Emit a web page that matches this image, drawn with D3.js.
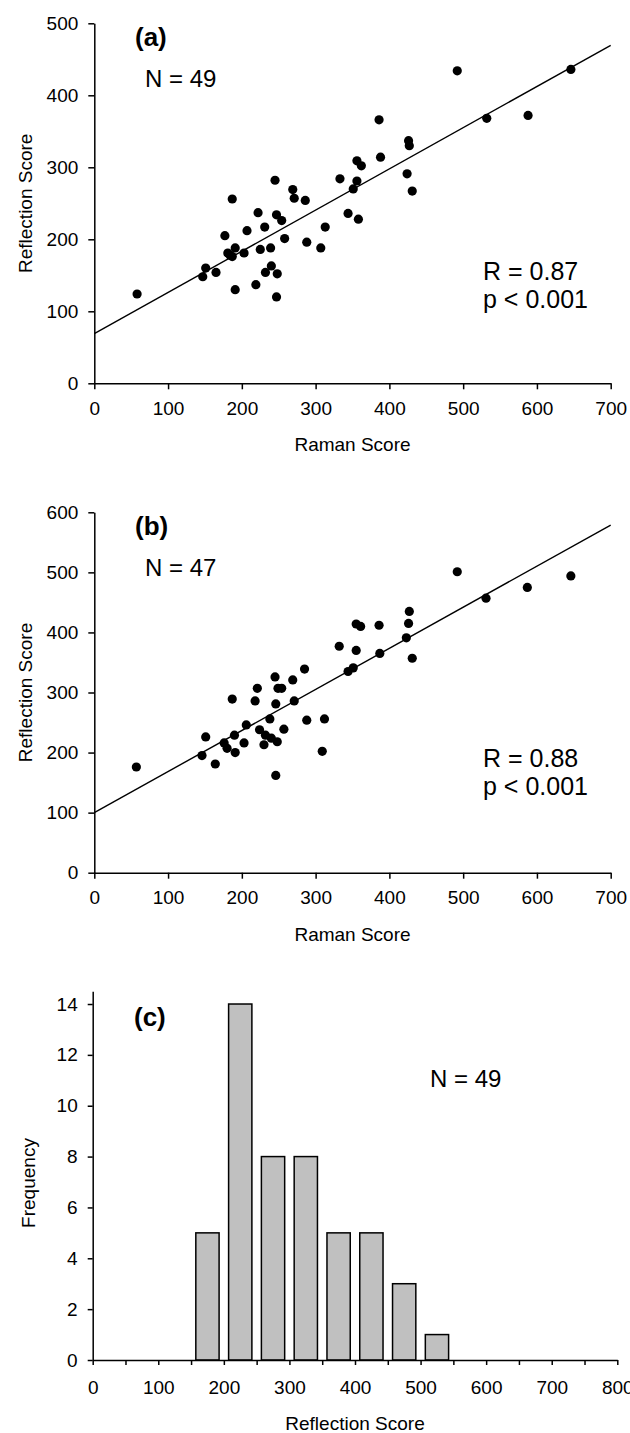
<!DOCTYPE html>
<html>
<head>
<meta charset="utf-8">
<script src="https://cdn.jsdelivr.net/npm/d3@7"></script>
<style>
  body { margin: 0; background: #fff; }
  svg { display: block; font-family: "Liberation Sans", Arial, sans-serif; }
  .axis path, .axis line { stroke: #000; stroke-width: 1.5; }
  .axis text { font-size: 19px; fill: #000; }
</style>
</head>
<body>
<div id="chart"></div>
<script>
// panel (a): Raman score vs reflection score, N = 49
const ramanA = [187, 245, 269, 271, 286, 222, 247, 254, 231, 177, 207, 258, 288, 307, 181, 187,
  191, 203, 225, 239, 240, 232, 248, 219, 247, 191, 151, 147, 165, 58, 492, 646, 532, 588,
  386, 426, 427, 388, 356, 362, 333, 356, 351, 424, 431, 344, 358, 313, 184];
const reflA = [256, 282, 269, 257, 254, 237, 234, 226, 217, 205, 212, 201, 196, 188, 181, 176,
  188, 181, 186, 188, 163, 154, 152, 137, 120, 130, 160, 148, 154, 124, 434, 436, 368, 372,
  366, 337, 330, 314, 309, 302, 284, 281, 270, 291, 267, 236, 228, 217, 178];
const fitA = [69, 0.572]; // intercept, slope

// panel (b): N = 47
const ramanB = [285, 245, 269, 249, 254, 221, 187, 218, 246, 271, 238, 206, 288, 224, 257, 190,
  232, 240, 248, 151, 176, 180, 203, 230, 191, 146, 164, 57, 246, 309, 312, 492, 646, 587,
  531, 427, 426, 423, 431, 355, 361, 386, 332, 355, 387, 344, 351];
const reflB = [339, 326, 321, 307, 307, 307, 289, 286, 281, 286, 256, 246, 254, 238, 239, 229,
  229, 224, 218, 226, 216, 207, 216, 213, 200, 195, 181, 176, 162, 202, 256, 501, 494, 475,
  457, 435, 415, 391, 357, 414, 410, 412, 377, 370, 365, 335, 341];
const fitB = [100, 0.684];

// panel (c): histogram of reflection score
const binStarts = [150, 200, 250, 300, 350, 400, 450, 500];
const binCounts = [5, 14, 8, 8, 5, 5, 3, 1];

const ramanTicks = [0, 100, 200, 300, 400, 500, 600, 700];
const reflTicksA = [0, 100, 200, 300, 400, 500];
const reflTicksB = [0, 100, 200, 300, 400, 500, 600];
const histXTicks = d3.range(0, 801, 50);
const freqTicks = [0, 2, 4, 6, 8, 10, 12, 14];

const width = 630;
const height = 1433;

const svg = d3.select('#chart')
  .append('svg')
  .attr('width', width)
  .attr('height', height);

function addText(x, y, str, size, opts = {}) {
  const t = svg.append('text')
    .attr('x', x)
    .attr('y', y)
    .style('font-size', `${size}px`)
    .text(str);
  if (opts.bold) t.style('font-weight', 'bold');
  if (opts.anchor) t.attr('text-anchor', opts.anchor);
  if (opts.rotate) t.attr('transform', `rotate(-90,${x},${y})`);
  return t;
}

function scatterPanel(p) {
  const x = d3.scaleLinear().domain([0, 700]).range([94.3, 610.7]);
  const y = d3.scaleLinear().domain([0, p.yMax]).range([p.bottom, p.top]);

  svg.append('g')
    .attr('class', 'axis')
    .attr('transform', `translate(0,${p.bottom})`)
    .call(d3.axisBottom(x).tickValues(ramanTicks).tickSize(6).tickSizeOuter(0).tickPadding(12));

  svg.append('g')
    .attr('class', 'axis')
    .attr('transform', `translate(${x(0)},0)`)
    .call(d3.axisLeft(y).tickValues(p.yTicks).tickSize(6).tickSizeOuter(0).tickPadding(10));

  // regression line
  svg.append('line')
    .attr('x1', x(0))
    .attr('y1', y(p.fit[0]))
    .attr('x2', x(700))
    .attr('y2', y(p.fit[0] + p.fit[1] * 700))
    .attr('stroke', '#000')
    .attr('stroke-width', 1.4);

  svg.append('g')
    .selectAll('circle')
    .data(p.xs.map((d, i) => [d, p.ys[i]]))
    .enter()
    .append('circle')
    .attr('cx', (d) => x(d[0]))
    .attr('cy', (d) => y(d[1]))
    .attr('r', 4.6)
    .attr('fill', '#000');

  addText(135, p.top + 23, p.label, 26, {bold: true});
  addText(145, p.top + 64, p.n, 24);
  addText(483, p.rTop, p.r, 25);
  addText(483, p.rTop + 28, 'p < 0.001', 25);
  addText(32, (p.top + p.bottom) / 2, 'Reflection Score', 19, {anchor: 'middle', rotate: true});
  addText(352.5, p.bottom + 68, 'Raman Score', 19, {anchor: 'middle'});
}

scatterPanel({
  xs: ramanA, ys: reflA, fit: fitA, yMax: 500, yTicks: reflTicksA,
  top: 23.3, bottom: 383.3, label: '(a)', n: 'N = 49', r: 'R = 0.87', rTop: 280
});

scatterPanel({
  xs: ramanB, ys: reflB, fit: fitB, yMax: 600, yTicks: reflTicksB,
  top: 512.3, bottom: 872.7, label: '(b)', n: 'N = 47', r: 'R = 0.88', rTop: 767
});

// histogram
const hx = d3.scaleLinear().domain([0, 800]).range([92.7, 617.3]);
const hy = d3.scaleLinear().domain([0, 14.5]).range([1360, 991.3]);
const binWidth = 50;
const barFrac = 0.71;

svg.append('g')
  .selectAll('rect')
  .data(binStarts.map((d, i) => [d, binCounts[i]]))
  .enter()
  .append('rect')
  .attr('x', (d) => hx(d[0] + binWidth * (1 - barFrac) / 2))
  .attr('y', (d) => hy(d[1]))
  .attr('width', hx(binWidth * barFrac) - hx(0))
  .attr('height', (d) => hy(0) - hy(d[1]))
  .attr('fill', '#c0c0c0')
  .attr('stroke', '#000')
  .attr('stroke-width', 1.5);

svg.append('g')
  .attr('class', 'axis')
  .attr('transform', 'translate(0,1360)')
  .call(d3.axisBottom(hx).tickValues(histXTicks).tickSize(5).tickSizeOuter(0).tickPadding(16)
    .tickFormat((d) => (d % 100 === 0 ? d : '')));

svg.append('g')
  .attr('class', 'axis')
  .attr('transform', `translate(${hx(0)},0)`)
  .call(d3.axisLeft(hy).tickValues(freqTicks).tickSize(5).tickSizeOuter(0).tickPadding(10));

addText(134, 1026, '(c)', 26, {bold: true});
addText(430, 1087, 'N = 49', 24);
addText(35, 1183, 'Frequency', 19, {anchor: 'middle', rotate: true});
addText(355, 1430, 'Reflection Score', 19, {anchor: 'middle'});
</script>
</body>
</html>
